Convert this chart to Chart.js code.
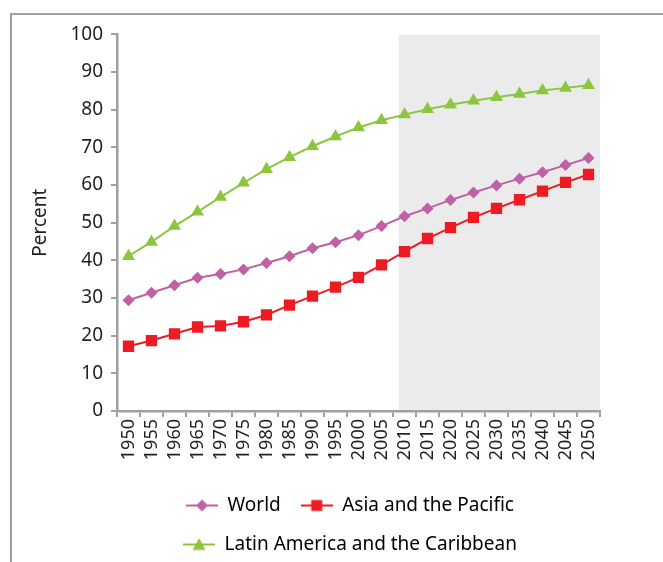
<!DOCTYPE html>
<html>
<head>
<meta charset="utf-8">
<script src="https://cdn.jsdelivr.net/npm/chart.js@4"></script>
<style>
  html, body { margin: 0; padding: 0; background: #fff; overflow: hidden; width: 663px; height: 562px; }
  #frame { position: absolute; left: 10px; top: 13px; border-left: 2px solid #a0a0a0; border-top: 2px solid #a0a0a0; width: 700px; height: 600px; }
  #chart { position: absolute; left: 0; top: 0; }
</style>
</head>
<body>
<div id="frame"><canvas id="chart" width="676" height="549"></canvas></div>
<script>
const years = ["1950", "1955", "1960", "1965", "1970", "1975", "1980", "1985", "1990", "1995", "2000",
  "2005", "2010", "2015", "2020", "2025", "2030", "2035", "2040", "2045", "2050"];
const world = [29.4, 31.4, 33.4, 35.4, 36.4, 37.6, 39.3, 41.1, 43.2, 44.8, 46.7,
  49.1, 51.7, 53.8, 56.0, 58.0, 59.9, 61.7, 63.4, 65.3, 67.2];
const asiaPacific = [17.2, 18.7, 20.5, 22.3, 22.6, 23.7, 25.5, 28.1, 30.5, 32.9, 35.5,
  38.8, 42.3, 45.8, 48.7, 51.4, 53.8, 56.1, 58.4, 60.7, 62.8];
const latinAmerica = [41.1, 44.9, 49.1, 52.9, 56.8, 60.6, 64.2, 67.4, 70.3, 72.9, 75.3,
  77.2, 78.7, 80.1, 81.3, 82.4, 83.3, 84.2, 85.1, 85.8, 86.5];
const yTicks = [0, 10, 20, 30, 40, 50, 60, 70, 80, 90, 100];
const projectionStart = "2010";

const FONT = "'Noto Sans', 'Open Sans', sans-serif";
const AXIS = "#a0a0a0";

// little line + marker images for the legend
function legendIcon(color, shape) {
  const c = document.createElement("canvas");
  c.width = 32; c.height = 16;
  const g = c.getContext("2d");
  g.strokeStyle = color; g.lineWidth = 2;
  g.beginPath(); g.moveTo(0, 8); g.lineTo(32, 8); g.stroke();
  g.fillStyle = color;
  g.beginPath();
  if (shape === "diamond") {
    g.moveTo(16, 2); g.lineTo(22, 8); g.lineTo(16, 14); g.lineTo(10, 8);
  } else if (shape === "square") {
    g.rect(10.5, 2.5, 11, 11);
  } else {
    g.moveTo(16, 1.5); g.lineTo(22.5, 13.5); g.lineTo(9.5, 13.5);
  }
  g.closePath(); g.fill();
  return c;
}

const shading = {
  id: "shading",
  beforeDraw(chart) {
    const { ctx, chartArea, scales } = chart;
    const x0 = scales.x.getPixelForValue(years.indexOf(projectionStart) - 0.25);
    ctx.save();
    ctx.fillStyle = "#ebebeb";
    ctx.fillRect(x0, chartArea.top, chartArea.right - x0, chartArea.bottom - chartArea.top);
    ctx.restore();
  }
};

function series(label, data, color, style, radius, icon) {
  return {
    label, data,
    borderColor: color, backgroundColor: color,
    borderWidth: 2,
    pointStyle: style, pointRadius: radius, pointHoverRadius: radius,
    pointBorderWidth: 0,
    icon: legendIcon(color, icon)
  };
}

new Chart(document.getElementById("chart"), {
  type: "line",
  data: {
    labels: years,
    datasets: [
      series("World", world, "#c060a5", "rectRot", 6, "diamond"),
      series("Asia and the Pacific", asiaPacific, "#ed1c24", "rect", 8, "square"),
      series("Latin America and the Caribbean", latinAmerica, "#8cc63f", "triangle", 7.5, "triangle")
    ]
  },
  plugins: [shading],
  options: {
    responsive: false,
    animation: false,
    layout: { padding: { top: 19, left: 0, right: 0, bottom: 0 } },
    plugins: {
      tooltip: { enabled: false },
      legend: {
        position: "bottom",
        labels: {
          usePointStyle: true,
          pointStyleWidth: 32,
          padding: 20,
          color: "#231f20",
          font: { family: FONT, size: 19 },
          generateLabels(chart) {
            return chart.data.datasets.map((d, i) => ({
              text: d.label,
              pointStyle: d.icon,
              fillStyle: d.borderColor,
              strokeStyle: d.borderColor,
              lineWidth: 0,
              hidden: false,
              datasetIndex: i
            }));
          }
        }
      }
    },
    scales: {
      x: {
        offset: true,
        grid: { offset: true, drawOnChartArea: false, color: AXIS, lineWidth: 2, tickLength: 6 },
        border: { color: AXIS, width: 2.5 },
        ticks: {
          minRotation: 90, maxRotation: 90, autoSkip: false, padding: 2,
          color: "#231f20", font: { family: FONT, size: 18 }
        },
        afterFit(s) { s.height = 65; }
      },
      y: {
        min: 0, max: 100,
        afterBuildTicks(s) { s.ticks = yTicks.map(v => ({ value: v })); },
        grid: { drawOnChartArea: false, color: AXIS, lineWidth: 2, tickLength: 6 },
        border: { color: AXIS, width: 2.5 },
        ticks: { padding: 8, color: "#231f20", font: { family: FONT, size: 19 } },
        title: {
          display: true, text: "Percent", color: "#231f20",
          font: { family: FONT, size: 19 }, padding: { top: 17, bottom: 0 }
        },
        afterFit(s) { s.width = 105; }
      },
      yRight: {
        position: "right",
        grid: { display: false },
        border: { display: false },
        ticks: { display: false },
        afterFit(s) { s.width = 88; }
      }
    }
  }
});
</script>
</body>
</html>
